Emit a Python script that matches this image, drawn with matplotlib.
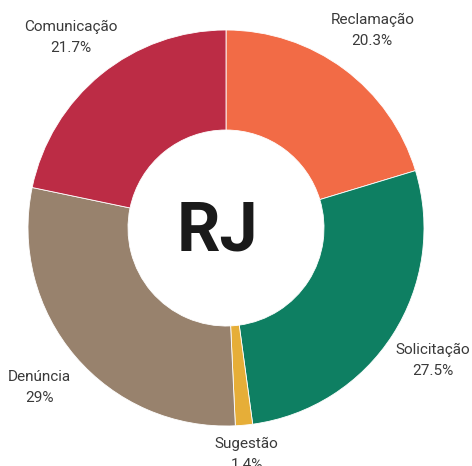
import numpy as np
import matplotlib
matplotlib.use("Agg")
import matplotlib.pyplot as plt

# Category shares (percent), clockwise from the top
categories = ["Reclamação", "Solicitação", "Sugestão", "Denúncia", "Comunicação"]
shares = [20.3, 27.5, 1.4, 29.0, 21.7]
share_labels = ["20.3%", "27.5%", "1.4%", "29%", "21.7%"]
colors = ["#F26B46", "#0E7F62", "#E6AE38", "#98826D", "#BC2C45"]
center_label = "RJ"

W, H = 472, 466
fig = plt.figure(figsize=(W / 100, H / 100), dpi=100)
ax = fig.add_axes([0, 0, 1, 1])

cx, cy = 226, H - 228
radius = 198

wedges, _ = ax.pie(shares, colors=colors, center=(cx, cy), radius=radius,
                   startangle=90, counterclock=False,
                   wedgeprops=dict(width=radius - 98, edgecolor="white", linewidth=0.6))

ax.set_xlim(0, W)
ax.set_ylim(0, H)
ax.set_aspect("equal")
ax.axis("off")

# labels outside the ring, the tiny slice sits a bit closer
for w, name, lab in zip(wedges, categories, share_labels):
    mid = np.deg2rad((w.theta1 + w.theta2) / 2)
    dist = 1.15 if name == "Sugestão" else 1.24
    x = cx + radius * dist * np.cos(mid)
    y = cy + radius * dist * np.sin(mid)
    ax.text(x, y, f"{name}\n{lab}", ha="center", va="center", fontsize=11,
            family="Roboto", color="#3a3a3a", linespacing=1.65)

ax.text(217, H - 232, center_label, ha="center", va="center", fontsize=49,
        family="Roboto", fontweight="bold", color="#1a1a1a")

fig.savefig("out.png", dpi=100)
